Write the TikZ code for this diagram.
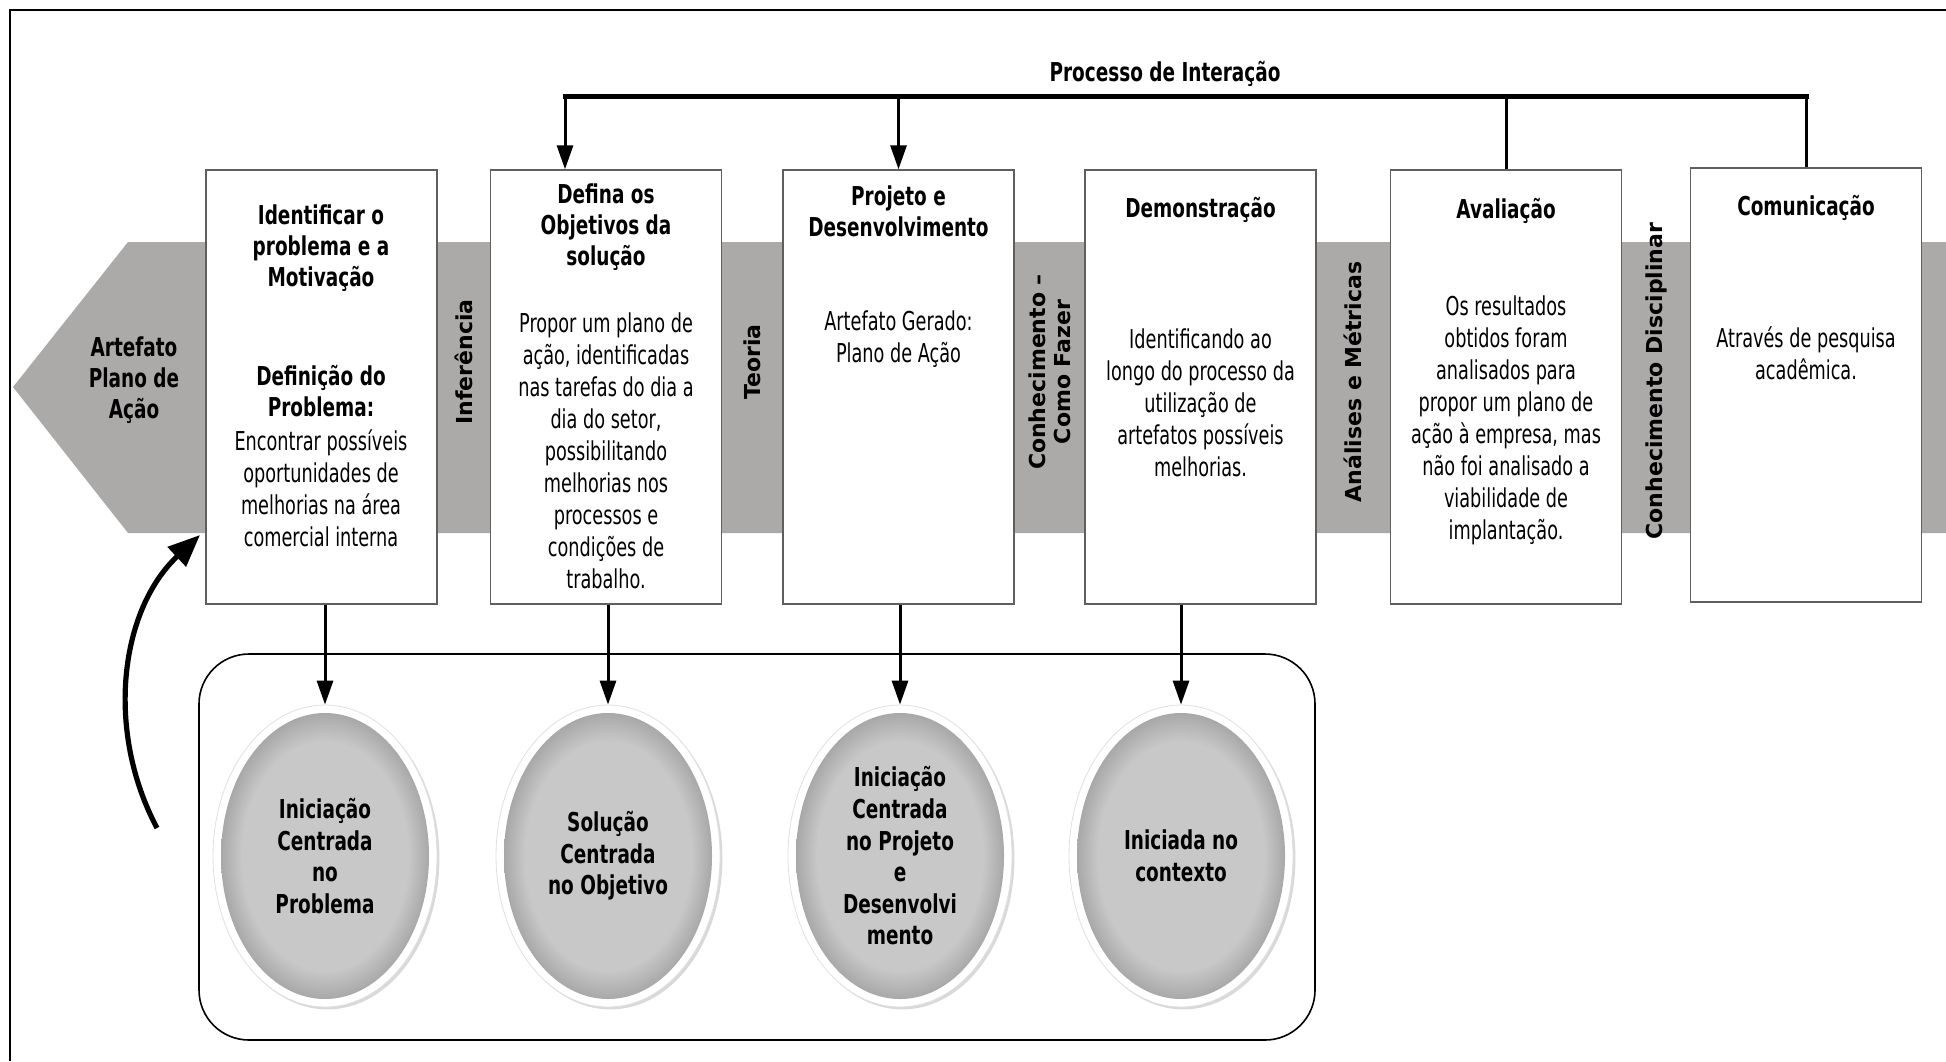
\documentclass[tikz,border=0pt]{standalone}
\usepackage{fontspec}
\setmainfont{DejaVu Sans}
\newfontfamily\cf[FakeStretch=0.68]{DejaVu Sans}
\newfontfamily\cfb[FakeStretch=0.71]{DejaVu Sans}
\usetikzlibrary{arrows.meta,shapes.geometric,shadows,calc}
\definecolor{bandgray}{RGB}{172,169,169}
\definecolor{boxline}{RGB}{95,95,95}
\definecolor{ellin}{RGB}{200,200,200}
\definecolor{ellout}{RGB}{168,168,168}
\pgfdeclareradialshading{ellshade}{\pgfpoint{0bp}{0bp}}{color(0bp)=(ellin); color(20bp)=(ellin); color(25bp)=(ellout); color(50bp)=(ellout)}
\begin{document}
\begin{tikzpicture}[x=0.5pt,y=-0.5pt,
  boxst/.style={draw=boxline,line width=0.7pt,fill=white,minimum width=115.5pt,minimum height=217pt,inner sep=0pt},
  hd/.style={font=\cfb\bfseries\fontsize{13}{15.5}\selectfont,align=center,inner sep=0pt},
  bd/.style={font=\cf\fontsize{13}{16}\selectfont,align=center,inner sep=0pt},
  vl/.style={font=\bfseries\fontsize{11}{12.5}\selectfont,rotate=90,align=center,inner sep=0pt},
  ring/.style={ellipse,fill=white,draw=black!12,line width=0.4pt,minimum width=112pt,minimum height=151pt,inner sep=0pt,drop shadow={opacity=0.3,shadow xshift=1.2pt,shadow yshift=-1.2pt}},
  ellst/.style={ellipse,shading=ellshade,minimum width=104pt,minimum height=143pt,inner sep=0pt,align=center,font=\cfb\bfseries\fontsize{13}{15.8}\selectfont},
  arr/.style={line width=1.5pt,-{Triangle[length=12pt,width=8pt]}},
  link/.style={line width=1.5pt},
  bar/.style={line width=2.5pt,line cap=rect}
]
\useasboundingbox (0,0) rectangle (1946,1061);
% outer frame
\draw[line width=0.9pt] (10,1061) -- (10,10) -- (1946,10);
% gray band with arrow head
\fill[bandgray] (13,387) -- (128,242) -- (1946,242) -- (1946,533) -- (128,533) -- cycle;
\node[hd] (art) at (134,380) {Artefato\\Plano de\\Ação};
% boxes
\node[boxst] (b1) at (321.5,387) {};
\node[boxst] (b2) at (606,387) {};
\node[boxst] (b3) at (898.5,387) {};
\node[boxst] (b4) at (1200.5,387) {};
\node[boxst] (b5) at (1506,387) {};
\node[boxst] (b6) at (1806,385) {};
% box texts
\node[hd] (b1h) at (321,248) {Identificar o\\problema e a\\Motivação};
\node[hd] (b1d) at (321,391) {Definição do\\Problema:};
\node[bd] (b1t) at (321,488) {Encontrar possíveis\\oportunidades de\\melhorias na área\\comercial interna};
\node[hd] (b2h) at (606,227) {Defina os\\Objetivos da\\solução};
\node[bd] (b2t) at (606,451) {Propor um plano de\\ação, identificadas\\nas tarefas do dia a\\dia do setor,\\possibilitando\\melhorias nos\\processos e\\condições de\\trabalho.};
\node[hd] (b3h) at (898.5,211) {Projeto e\\Desenvolvimento};
\node[bd] (b3t) at (898.5,339) {Artefato Gerado:\\Plano de Ação};
\node[hd] (b4h) at (1200.5,210) {Demonstração};
\node[bd] (b4t) at (1200.5,403) {Identificando ao\\longo do processo da\\utilização de\\artefatos possíveis\\melhorias.};
\node[hd] (b5h) at (1506,211) {Avaliação};
\node[bd] (b5t) at (1506,420) {Os resultados\\obtidos foram\\analisados para\\propor um plano de\\ação à empresa, mas\\não foi analisado a\\viabilidade de\\implantação.};
\node[hd] (b6h) at (1806,208) {Comunicação};
\node[bd] (b6t) at (1806,353) {Através de pesquisa\\acadêmica.};
% vertical labels
\node[vl] (v1) at (464,362) {Inferência};
\node[vl] (v2) at (752,362) {Teoria};
\node[vl] (v3) at (1050,372) {Conhecimento –\\Como Fazer};
\node[vl] (v4) at (1353,382) {Análises e Métricas};
\node[vl] (v5) at (1656,381) {Conhecimento Disciplinar};
% iteration process
\node[hd] (title) at (1165,74) {Processo de Interação};
\coordinate (tl) at (565,96);
\draw[bar] (tl) -- (b6.north |- tl);
\draw[arr] (tl) -- (tl |- b2.north);
\draw[arr] (b3.north |- tl) -- (b3.north);
\draw[link] (b5.north) -- (b5.north |- tl);
\draw[link] (b6.north) -- (b6.north |- tl);
% container
\node[draw,line width=0.8pt,rounded corners=25pt,minimum width=558pt,minimum height=193pt] (cont) at (757,847) {};
% ellipses
\node[ring] (e1) at (325,856) {};
\node[ellst] (e1t) at (e1) {Iniciação\\Centrada\\no\\Problema};
\node[ring] (e2) at (608,856) {};
\node[ellst] (e2t) at (e2) {Solução\\Centrada\\no Objetivo};
\node[ring] (e3) at (900,856) {};
\node[ellst] (e3t) at (e3) {Iniciação\\Centrada\\no Projeto\\e\\Desenvolvi\\mento};
\node[ring] (e4) at (1181,856) {};
\node[ellst] (e4t) at (e4) {Iniciada no\\contexto};
% arrows boxes -> ellipses
\draw[arr] (b1.south -| e1.north) -- (e1.north);
\draw[arr] (b2.south -| e2.north) -- (e2.north);
\draw[arr] (b3.south -| e3.north) -- (e3.north);
\draw[arr] (b4.south -| e4.north) -- (e4.north);
% curved feedback arrow
\coordinate (ct) at (157,828);
\coordinate (ch) at (200,535);
\draw[line width=2.6pt,-{Triangle[length=16pt,width=13pt]}] (ct) .. controls (105,730) and (120,610) .. (ch);
\end{tikzpicture}
\end{document}
